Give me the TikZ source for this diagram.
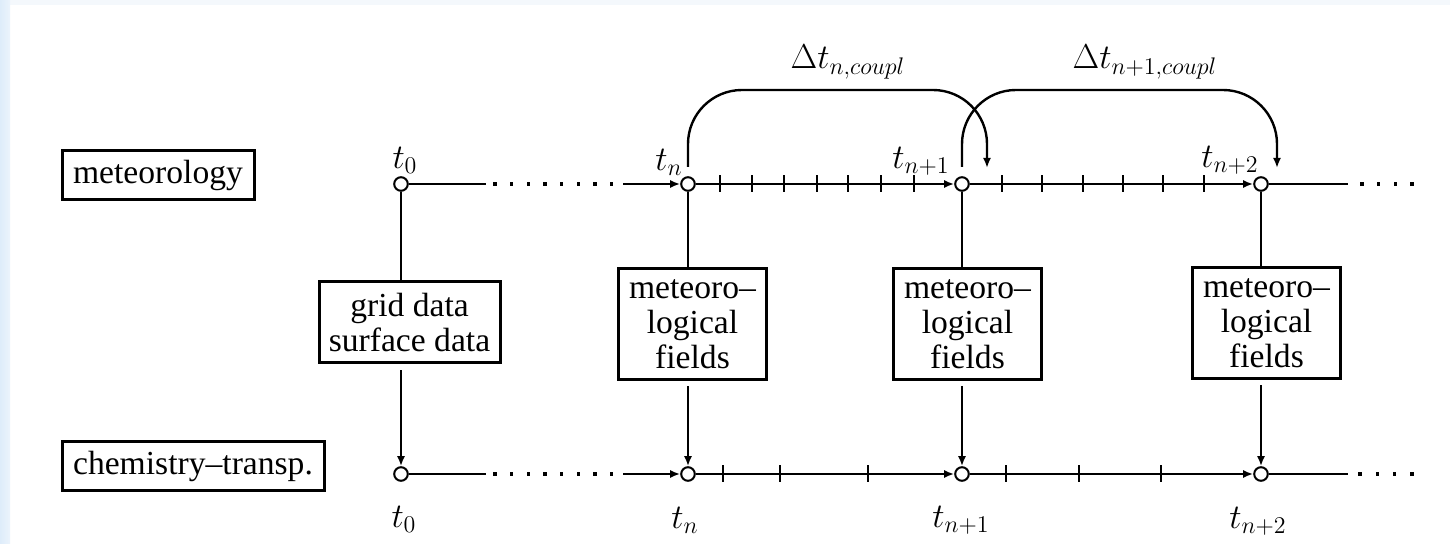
\documentclass[tikz,border=0pt]{standalone}
\usepackage[no-math]{fontspec}
\setmainfont{Liberation Serif}
\usetikzlibrary{arrows.meta}
\definecolor{bgblue}{RGB}{222,236,250}
\definecolor{bgtop}{RGB}{244,248,252}
\begin{document}
\begin{tikzpicture}[x=0.5pt,y=-0.5pt,
  every node/.style={font=\fontsize{16.8}{17.5}\selectfont},
  lbl/.style={draw=black,line width=1.5pt,inner sep=2pt,align=center},
  fbox/.style={lbl,minimum width=74pt,minimum height=55.5pt,inner sep=1pt},
  tpt/.style={circle,draw=black,fill=white,line width=1pt,minimum size=6.8pt,inner sep=0pt},
  ln/.style={line width=1.4pt},
  arr/.style={ln,-{Latex[length=5pt,width=4pt]}},
  arcarr/.style={line width=1.2pt,-{Latex[length=5pt,width=4pt]}},
  tickmark/.style={line width=1.4pt},
]
\useasboundingbox (0,0) rectangle (1450,544);
\fill[white] (0,0) rectangle (1450,544);
\fill[bgtop] (0,0) rectangle (1450,5);
\shade[left color=bgblue,right color=bgblue!60!white] (0,0) rectangle (10,544);

% side labels
\node[lbl,minimum width=96pt,minimum height=24.5pt] (met) at (158,175.5) {meteorology};
\node[lbl,minimum width=131pt,minimum height=24.5pt] (chem) at (193,466.5) {chemistry--transp.};

% time points
\node[tpt] (a0) at (401,184) {};
\node[tpt] (an) at (688,184) {};
\node[tpt] (an1) at (962,184) {};
\node[tpt] (an2) at (1261,184) {};
\node[tpt] (b0) at (401,474) {};
\node[tpt] (bn) at (688,474) {};
\node[tpt] (bn1) at (962,474) {};
\node[tpt] (bn2) at (1261,474) {};

% boxes
\node[lbl,minimum width=90.5pt,minimum height=40.5pt] (grid) at (409.5,322.5) {grid data\\surface data};
\node[fbox] (f1) at (692.5,324.5) {meteoro--\\logical\\fields};
\node[fbox] (f2) at (967.5,324) {meteoro--\\logical\\fields};
\node[fbox] (f3) at (1266.5,323.5) {meteoro--\\logical\\fields};

% vertical connectors
\draw[ln] (a0) -- (grid.north -| a0);
\draw[arr,shorten <=3pt] (grid.south -| b0) -- (b0);
\draw[ln] (an) -- (f1.north -| an);
\draw[arr,shorten <=2.5pt] (f1.south -| bn) -- (bn);
\draw[ln] (an1) -- (f2.north -| an1);
\draw[arr,shorten <=2.5pt] (f2.south -| bn1) -- (bn1);
\draw[ln] (an2) -- (f3.north -| an2);
\draw[arr,shorten <=2.5pt] (f3.south -| bn2) -- (bn2);

% top time line
\coordinate (a0e) at (486,184);
\coordinate (ans) at (623,184);
\coordinate (a2e) at (1348,184);
\draw[ln] (a0) -- (a0e);
\draw[arr] (ans) -- (an);
\draw[arr] (an) -- (an1);
\draw[arr] (an1) -- (an2);
\draw[ln] (an2) -- (a2e);
\foreach \i in {0,...,7} \fill ({495+16.67*\i-1.8},182.2) rectangle ++(3.6,3.6);
\foreach \i in {0,...,3} \fill ({1362+16.67*\i-1.8},182.2) rectangle ++(3.6,3.6);
\foreach \x in {720,752,784,817,848,881,914,1002,1042,1083,1123,1163,1204}
  \draw[tickmark] (\x,175.5) -- (\x,192.5);

% bottom time line
\coordinate (b0e) at (486,474);
\coordinate (bns) at (623,474);
\coordinate (b2e) at (1348,474);
\draw[ln] (b0) -- (b0e);
\draw[arr] (bns) -- (bn);
\draw[arr] (bn) -- (bn1);
\draw[arr] (bn1) -- (bn2);
\draw[ln] (bn2) -- (b2e);
\foreach \i in {0,...,7} \fill ({495+16.67*\i-1.8},472.2) rectangle ++(3.6,3.6);
\foreach \i in {0,...,3} \fill ({1360+17.3*\i-1.8},472.2) rectangle ++(3.6,3.6);
\foreach \x in {723,780,868,1006,1079,1161}
  \draw[tickmark] (\x,465.5) -- (\x,482.5);

% coupling arcs
\coordinate (hl) at (0,90);
\coordinate (c1s) at (688,167);
\coordinate (c1e) at (987,168);
\coordinate (c2s) at (962,167);
\coordinate (c2e) at (1277,168);
\draw[arcarr,rounded corners=27pt] (c1s) |- (c1e |- hl) -- (c1e);
\draw[arcarr,rounded corners=27pt] (c2s) |- (c2e |- hl) -- (c2e);

% labels
\node (lt0) at (405,160) {$t_0$};
\node (ltn) at (669,162) {$t_n$};
\node (ltn1) at (921,161) {$t_{n+1}$};
\node (ltn2) at (1230,160) {$t_{n+2}$};
\node (bt0) at (404,519) {$t_0$};
\node (btn) at (685,520) {$t_n$};
\node (btn1) at (961,520) {$t_{n+1}$};
\node (btn2) at (1258,521) {$t_{n+2}$};
\node (d1) at (848,62) {$\Delta t_{n,coupl}$};
\node (d2) at (1145,62) {$\Delta t_{n+1,coupl}$};
\end{tikzpicture}
\end{document}
